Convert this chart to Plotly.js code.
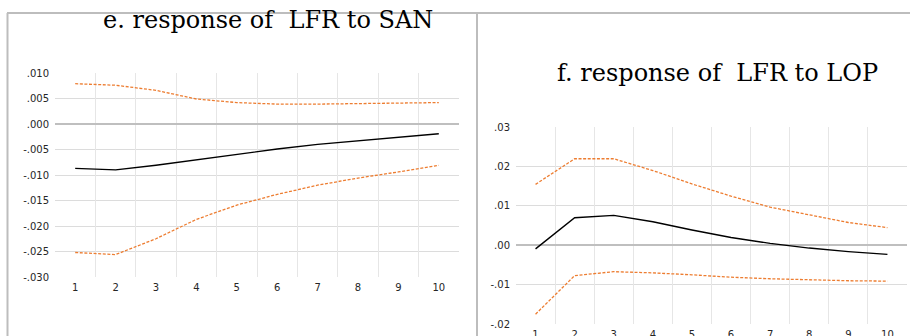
<!DOCTYPE html>
<html>
<head>
<meta charset="utf-8">
<script src="https://cdn.plot.ly/plotly-3.0.1.min.js"></script>
<style>
html,body{margin:0;padding:0;background:#fff;}
#chart{width:910px;height:336px;}
</style>
</head>
<body>
<div id="chart"></div>
<script>
// ---- data ----
var periods = [1,2,3,4,5,6,7,8,9,10];
var periodLabels = ['1','2','3','4','5','6','7','8','9','10'];

// panel e: response of LFR to SAN
var eResponse = [-0.0087,-0.0090,-0.0081,-0.0070,-0.0060,-0.0049,-0.0040,-0.0033,-0.0026,-0.0019];
var eUpper    = [0.0079,0.0076,0.0066,0.0049,0.0042,0.0039,0.0039,0.0040,0.0041,0.0042];
var eLower    = [-0.0252,-0.0256,-0.0225,-0.0187,-0.0159,-0.0138,-0.0120,-0.0106,-0.0094,-0.0081];
var eTickVals = [0.010,0.005,0.000,-0.005,-0.010,-0.015,-0.020,-0.025,-0.030];
var eTickText = ['.010','.005','.000','-.005','-.010','-.015','-.020','-.025','-.030'];

// panel f: response of LFR to LOP
var fResponse = [-0.0009,0.0070,0.0076,0.0060,0.0039,0.0020,0.0005,-0.0007,-0.0016,-0.0023];
var fUpper    = [0.0155,0.0220,0.0220,0.0190,0.0156,0.0125,0.0097,0.0077,0.0058,0.0045];
var fLower    = [-0.0175,-0.0077,-0.0067,-0.0070,-0.0075,-0.0081,-0.0085,-0.0088,-0.0090,-0.0091];
var fTickVals = [0.03,0.02,0.01,0.00,-0.01,-0.02];
var fTickText = ['.03','.02','.01','.00','-.01','-.02'];

var boundaries = [1.5,2.5,3.5,4.5,5.5,6.5,7.5,8.5,9.5];

var titleE = 'e. response of &nbsp;LFR to SAN';
var titleF = 'f. response of &nbsp;LFR to LOP';

// ---- styles ----
var W = 910, H = 336;
var orange = '#ED7D31';
var dashStyle = '3px,1.6px';
var tickFont = {family:'DejaVu Sans, sans-serif', size:10, color:'#262626'};
var titleFont = {family:'DejaVu Serif, Liberation Serif, serif', size:24, color:'#000'};
var gridH = '#dcdcdc', gridV = '#e6e6e6';

function px(x){return x/W;}
function py(y){return (H-y)/H;}

function bands(xa, ya, resp, up, lo){
  return [
    {x:periods, y:up, xaxis:xa, yaxis:ya, type:'scatter', mode:'lines',
     line:{color:orange, width:1.3, dash:dashStyle}, hoverinfo:'skip'},
    {x:periods, y:lo, xaxis:xa, yaxis:ya, type:'scatter', mode:'lines',
     line:{color:orange, width:1.3, dash:dashStyle}, hoverinfo:'skip'},
    {x:periods, y:resp, xaxis:xa, yaxis:ya, type:'scatter', mode:'lines',
     line:{color:'#000000', width:1.4}, hoverinfo:'skip'}
  ];
}

var data = [].concat(
  bands('x','y',eResponse,eUpper,eLower),
  bands('x2','y2',fResponse,fUpper,fLower)
);

var xBase = {range:[0.5,10.5], tickmode:'array', tickvals:periods, ticktext:periodLabels,
  showgrid:false, zeroline:false, showline:false, ticks:'', tickfont:tickFont, fixedrange:true, ticklabelstandoff:3};
var xGrid = {range:[0.5,10.5], tickmode:'array', tickvals:boundaries, showticklabels:false,
  showgrid:true, gridcolor:gridV, gridwidth:1, zeroline:false, showline:false, ticks:''};

var layout = {
  width:W, height:H, margin:{l:0,r:0,t:0,b:0},
  paper_bgcolor:'#ffffff', plot_bgcolor:'rgba(0,0,0,0)',
  showlegend:false,
  xaxis: Object.assign({}, xBase, {domain:[px(55),px(459)], anchor:'y'}),
  xaxis3: Object.assign({}, xGrid, {domain:[px(55),px(459)], anchor:'y', overlaying:'x'}),
  yaxis: {domain:[py(277),py(73)], range:[-0.030,0.010], tickmode:'array', tickvals:eTickVals, ticktext:eTickText,
    showgrid:true, gridcolor:gridH, gridwidth:1, zeroline:true, zerolinecolor:'#bfbfbf', zerolinewidth:2,
    showline:false, ticks:'', tickfont:tickFont, anchor:'x', ticklabelstandoff:5},
  xaxis2: Object.assign({}, xBase, {domain:[px(516),px(907)], anchor:'y2'}),
  xaxis4: Object.assign({}, xGrid, {domain:[px(516),px(907)], anchor:'y2', overlaying:'x2'}),
  yaxis2: {domain:[py(324),py(127.3)], range:[-0.02,0.03], tickmode:'array', tickvals:fTickVals, ticktext:fTickText,
    showgrid:true, gridcolor:gridH, gridwidth:1, zeroline:true, zerolinecolor:'#bfbfbf', zerolinewidth:2,
    showline:false, ticks:'', tickfont:tickFont, anchor:'x2', ticklabelstandoff:5},
  shapes:[
    {type:'line', xref:'paper', yref:'paper', x0:px(7), x1:1, y0:py(13), y1:py(13), line:{color:'#bdbdbd', width:2}},
    {type:'line', xref:'paper', yref:'paper', x0:px(7.5), x1:px(7.5), y0:py(13), y1:0, line:{color:'#bdbdbd', width:2}},
    {type:'line', xref:'paper', yref:'paper', x0:px(477), x1:px(477), y0:py(13), y1:0, line:{color:'#bdbdbd', width:2}}
  ],
  annotations:[
    {text:titleE, xref:'paper', yref:'paper', x:px(268), y:py(20), xanchor:'center', yanchor:'middle', showarrow:false,
     font:titleFont},
    {text:titleF, xref:'paper', yref:'paper', x:px(717), y:py(73), xanchor:'center', yanchor:'middle', showarrow:false,
     font:titleFont}
  ]
};

// grid-only traces for overlay axes
data.unshift({x:[1],y:[null],xaxis:'x3',yaxis:'y',type:'scatter',mode:'lines',hoverinfo:'skip'});
data.unshift({x:[1],y:[null],xaxis:'x4',yaxis:'y2',type:'scatter',mode:'lines',hoverinfo:'skip'});

Plotly.newPlot('chart', data, layout, {staticPlot:true, displayModeBar:false});
</script>
</body>
</html>
